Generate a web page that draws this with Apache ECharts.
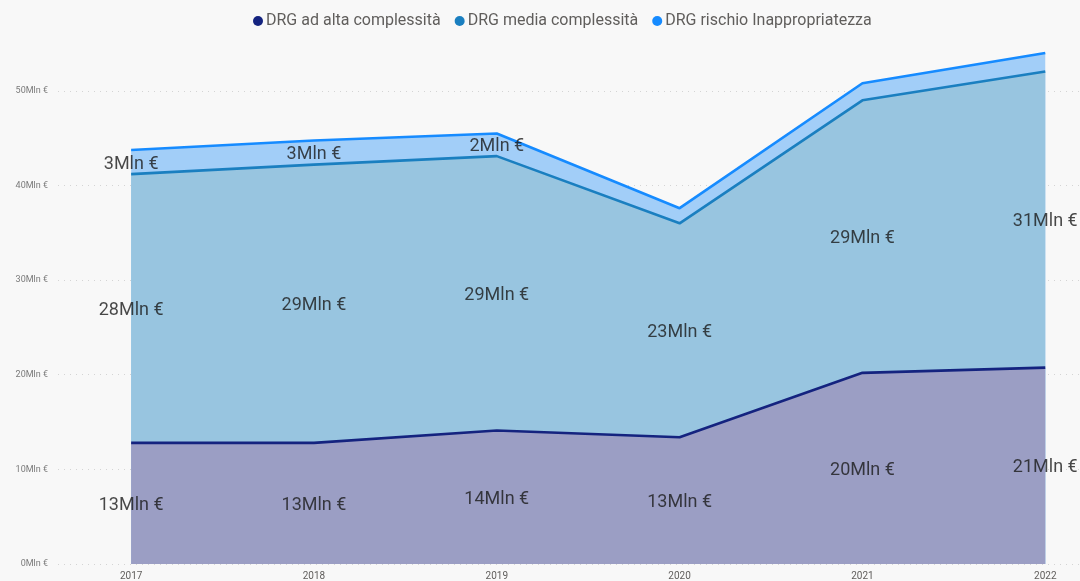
<!DOCTYPE html>
<html>
<head>
<meta charset="utf-8">
<script src="https://cdn.jsdelivr.net/npm/echarts@6/dist/echarts.min.js"></script>
<style>
html,body{margin:0;padding:0;background:#ffffff;}
#c{width:1080px;height:581px;}
</style>
</head>
<body>
<div id="c"></div>
<script>
const years = ['2017','2018','2019','2020','2021','2022'];
const alta = [12.8, 12.8, 14.1, 13.4, 20.2, 20.75];
const media = [28.4, 29.4, 29.0, 22.6, 28.8, 31.3];
const rischio = [2.55, 2.55, 2.4, 1.6, 1.8, 1.95];
const rischioLabelShown = [true, true, true, false, false, false];
const yTicks = [0, 10, 20, 30, 40, 50];

const names = ['DRG ad alta complessità', 'DRG media complessità', 'DRG rischio Inappropriatezza'];
const lineColors = ['#14237f', '#1a7fc0', '#168bff'];
const areaColors = ['#9b9ec4', '#98c5e0', '#a2cef8'];

const cumAlta = alta.map(v => v);
const cumMedia = alta.map((v, i) => v + media[i]);
const cumRischio = cumMedia.map((v, i) => v + rischio[i]);

function pts(arr){ return arr.map((v, i) => [i, v]); }
function fmt(v){ return Math.round(v) + 'Mln €'; }

function areaSeries(idx, data, z){
  return {
    name: names[idx], type: 'line', data: pts(data), z: z,
    symbol: 'none', smooth: false,
    lineStyle: {color: lineColors[idx], width: 2.6},
    itemStyle: {color: lineColors[idx]},
    areaStyle: {color: areaColors[idx], opacity: 1}
  };
}

function labelSeries(bases, vals, shown){
  return {
    type: 'scatter', symbolSize: 0, z: 10, silent: true,
    data: vals.map((v, i) => ({
      value: [i, bases[i] + v / 2],
      raw: v,
      label: {show: shown ? shown[i] : true}
    })),
    label: {
      show: true, position: 'inside', offset: [0, 2],
      formatter: p => fmt(p.data.raw),
      fontFamily: 'Roboto', fontSize: 18, color: '#1a1a1a'
    }
  };
}

const chart = echarts.init(document.getElementById('c'), null, {renderer: 'canvas'});
chart.setOption({
  backgroundColor: '#f8f8f8',
  animation: false,
  legend: {
    top: 8, left: 248,
    data: names,
    icon: 'circle', itemWidth: 10, itemHeight: 10, itemGap: 14,
    textStyle: {fontFamily: 'Roboto', fontSize: 16, color: '#605e5c', padding: [0, 0, 0, -2]}
  },
  grid: {left: 58, right: 0, top: 0, bottom: 16, containLabel: false},
  xAxis: {
    type: 'value', min: -0.4, max: 5.19,
    axisLine: {show: false}, axisTick: {show: false}, splitLine: {show: false},
    axisLabel: {
      customValues: [0, 1, 2, 3, 4, 5],
      formatter: v => years[v],
      fontFamily: 'Roboto', fontSize: 10, color: '#605e5c', margin: 7
    }
  },
  yAxis: {
    type: 'value', min: 0, max: 59.6, interval: 10,
    axisLine: {show: false}, axisTick: {show: false},
    axisLabel: {
      customValues: yTicks,
      formatter: v => v + 'Mln €',
      fontFamily: 'Roboto', fontSize: 9, color: '#7a7a7a', margin: 10
    },
    splitLine: {show: true, showMaxLine: false, lineStyle: {color: '#d4d4d4', type: [1, 5], width: 1}}
  },
  series: [
    areaSeries(2, cumRischio, 1),
    areaSeries(1, cumMedia, 2),
    areaSeries(0, cumAlta, 3),
    labelSeries(alta.map(() => 0), alta),
    labelSeries(cumAlta, media),
    labelSeries(cumMedia, rischio, rischioLabelShown)
  ]
});
</script>
</body>
</html>
